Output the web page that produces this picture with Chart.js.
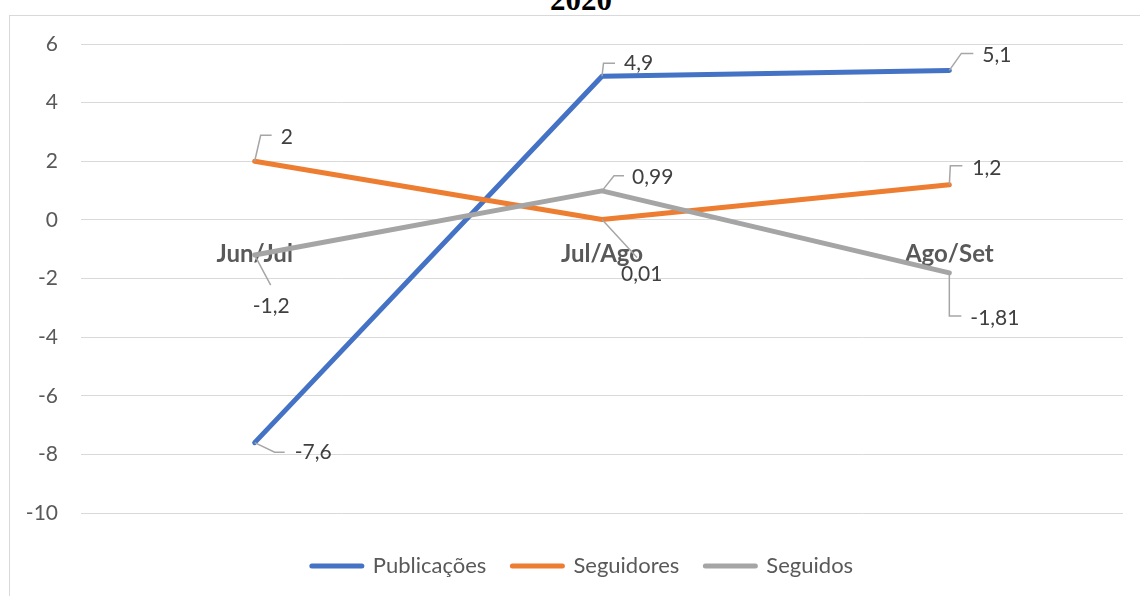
<!DOCTYPE html>
<html lang="pt">
<head>
<meta charset="utf-8">
<title>2020</title>
<script src="https://cdn.jsdelivr.net/npm/chart.js@4/dist/chart.umd.min.js"></script>
<style>
  html, body { margin: 0; padding: 0; background: #ffffff; }
  body { width: 1140px; height: 596px; overflow: hidden; position: relative; }
  #frame {
    position: absolute; left: 9px; top: 15px; width: 1160px; height: 620px;
    border-left: 1px solid #D9D9D9; border-top: 1px solid #D9D9D9;
  }
  #title {
    position: absolute; left: 581px; top: -16.5px; transform: translateX(-50%);
    font-family: "Liberation Serif", "DejaVu Serif", serif;
    font-weight: bold; font-size: 31px; line-height: 31px; color: #000000;
    white-space: nowrap;
  }
  #chart { position: absolute; left: 10px; top: 8px; }
</style>
</head>
<body>
<div id="frame"></div>
<div id="title">2020</div>
<canvas id="chart" width="1145" height="588"></canvas>
<script>
// Periods compared month over month
const categories = ['Jun/Jul', 'Jul/Ago', 'Ago/Set'];

// Variation per period for each series
const publicacoes = [-7.6, 4.9, 5.1];
const seguidores  = [2, 0.01, 1.2];
const seguidos    = [-1.2, 0.99, -1.81];

const seriesNames  = ['Publicações', 'Seguidores', 'Seguidos'];
const seriesColors = ['#4472C4', '#ED7D31', '#A5A5A5'];

// Y axis ticks
const yMin = -10, yMax = 6, yStep = 2;

// Data label placement: leader polyline and text anchor, relative to each point
const labelPlacement = [
  [ { leader: [[0,0],[20,9.5],[30,9.5]],  text: [40, 9.5],  align: 'left' },
    { leader: [[0,0],[1.5,-13],[13,-13]], text: [22, -13],  align: 'left' },
    { leader: [[0,0],[12,-17],[24,-17]],  text: [33, -15],  align: 'left' } ],
  [ { leader: [[0,0],[6,-26],[17,-26]],   text: [26, -24],  align: 'left' },
    { leader: [[0,0],[35,38]],            text: [19, 55],   align: 'left' },
    { leader: [[0,0],[1,-19],[13,-19]],   text: [23, -16],  align: 'left' } ],
  [ { leader: [[0,0],[16,30]],            text: [16.5, 51], align: 'center' },
    { leader: [[0,0],[12,-15],[22,-15]],  text: [30, -14],  align: 'left' },
    { leader: [[0,0],[0,43],[12,43]],     text: [21, 45],   align: 'left' } ]
];

const fmt = v => String(v).replace('.', ',');

// Value labels with grey leader lines
const dataLabels = {
  id: 'dataLabels',
  afterDatasetsDraw(chart) {
    const ctx = chart.ctx;
    ctx.save();
    chart.data.datasets.forEach((ds, di) => {
      const meta = chart.getDatasetMeta(di);
      meta.data.forEach((pt, i) => {
        const p = labelPlacement[di][i];
        ctx.beginPath();
        p.leader.forEach(([dx, dy], k) => {
          if (k === 0) ctx.moveTo(pt.x + dx, pt.y + dy);
          else ctx.lineTo(pt.x + dx, pt.y + dy);
        });
        ctx.strokeStyle = '#A6A6A6';
        ctx.lineWidth = 1.5;
        ctx.lineJoin = 'miter';
        ctx.lineCap = 'butt';
        ctx.stroke();
        ctx.font = '21px Lato, "Open Sans", sans-serif';
        ctx.fillStyle = '#404040';
        ctx.textAlign = p.align;
        ctx.textBaseline = 'middle';
        ctx.fillText(fmt(ds.data[i]), pt.x + p.text[0], pt.y + p.text[1]);
      });
    });
    ctx.restore();
  }
};

const seriesData = [publicacoes, seguidores, seguidos];

const datasets = seriesData.map((d, i) => ({
  label: seriesNames[i],
  data: d,
  xAxisID: 'x',
  yAxisID: 'y',
  borderColor: seriesColors[i],
  backgroundColor: seriesColors[i],
  borderWidth: 5,
  borderCapStyle: 'round',
  borderJoinStyle: 'round',
  pointRadius: 0,
  pointHoverRadius: 0,
  pointBorderWidth: 5,
  tension: 0,
  order: seriesData.length - i
}));

new Chart(document.getElementById('chart'), {
  type: 'line',
  data: { labels: categories, datasets },
  plugins: [dataLabels],
  options: {
    responsive: false,
    animation: false,
    devicePixelRatio: 1,
    layout: { padding: { top: 36, left: 0, right: 0, bottom: 9 } },
    plugins: {
      title: { display: false },
      tooltip: { enabled: false },
      legend: {
        position: 'bottom',
        labels: {
          usePointStyle: true,
          pointStyle: 'line',
          pointStyleWidth: 50,
          padding: 26,
          color: '#595959',
          font: { family: 'Lato', size: 22 },
          sort: (a, b) => a.datasetIndex - b.datasetIndex,
          generateLabels(chart) {
            return Chart.defaults.plugins.legend.labels.generateLabels(chart).map(item => {
              const ds = chart.data.datasets[item.datasetIndex];
              item.lineWidth = ds.borderWidth;
              item.lineCap = 'round';
              item.strokeStyle = ds.borderColor;
              item.pointStyle = 'line';
              return item;
            });
          }
        }
      }
    },
    scales: {
      x: {
        type: 'category',
        offset: true,
        position: { y: 0 },
        grid: { display: false, drawTicks: false },
        border: { display: false },
        ticks: {
          color: '#595959',
          font: { family: 'Lato', size: 24, weight: 'bold' },
          padding: 20,
          maxRotation: 0,
          autoSkip: false
        }
      },
      y: {
        position: 'left',
        min: yMin,
        max: yMax,
        grid: { color: '#D9D9D9', lineWidth: 1, drawTicks: false },
        border: { display: false },
        ticks: {
          stepSize: yStep,
          padding: 23,
          color: '#595959',
          font: { family: 'Lato', size: 21 },
          callback: v => String(v)
        },
        afterFit(scale) { scale.width = 71; }
      },
      // empty spacer axes keeping the plot inside the frame
      xGap: {
        type: 'linear',
        axis: 'x',
        position: 'bottom',
        display: true,
        grid: { display: false, drawTicks: false },
        border: { display: false },
        ticks: { display: false },
        afterFit(scale) { scale.height = 16; }
      },
      yRight: {
        type: 'linear',
        axis: 'y',
        position: 'right',
        display: true,
        grid: { display: false, drawTicks: false },
        border: { display: false },
        ticks: { display: false },
        afterFit(scale) { scale.width = 32; }
      }
    }
  }
});
</script>
</body>
</html>
